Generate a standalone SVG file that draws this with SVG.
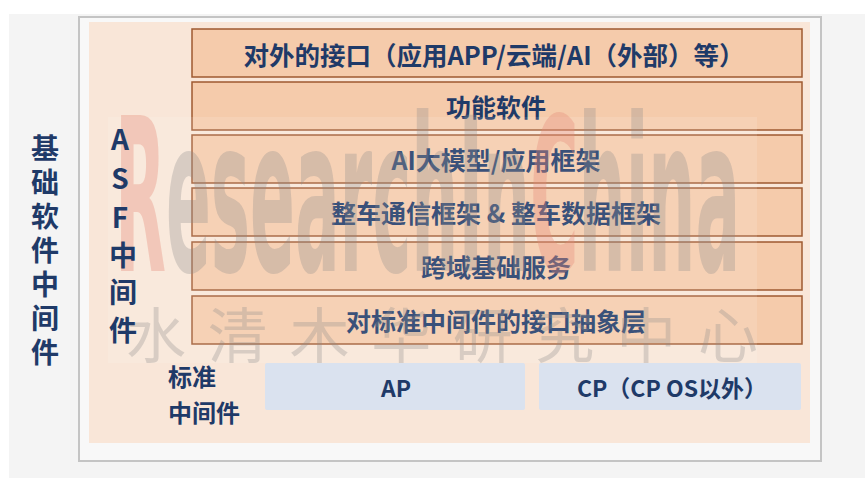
<svg xmlns="http://www.w3.org/2000/svg" width="865" height="480" viewBox="0 0 865 480">
<style>
.t{font-family:"Noto Sans CJK SC","Noto Sans",sans-serif;font-weight:bold;fill:#1f3a68;dominant-baseline:central}
.ob{fill:#f5cbab;stroke:#9e5a30;stroke-width:1.5}
.bb{fill:#dae2ef}
.wm{font-family:"Liberation Sans Narrow","DejaVu Sans Condensed","Liberation Sans",sans-serif;font-weight:bold}
</style>
<rect x="0" y="0" width="865" height="480" fill="#ffffff"/>
<rect x="9" y="14" width="856" height="464" fill="#f4f4f4"/>
<rect x="79" y="17" width="742" height="444" fill="#f8f8f8" stroke="#c4c4c4" stroke-width="2"/>
<rect x="89" y="22" width="721" height="421" fill="#f9e6d8"/>

<g id="layer-external"><rect class="ob" x="192" y="29" width="610" height="48"/><text class="t" x="494" y="53" font-size="25.5" text-anchor="middle">对外的接口（应用APP/云端/AI（外部）等）</text></g>
<g id="layer-function"><rect class="ob" x="192" y="82" width="610" height="48"/><text class="t" x="496" y="106" font-size="25" text-anchor="middle">功能软件</text></g>
<g id="layer-ai"><rect class="ob" x="192" y="135" width="610" height="48"/><text class="t" x="496" y="159" font-size="25" text-anchor="middle">AI大模型/应用框架</text></g>
<g id="layer-comm"><rect class="ob" x="192" y="188" width="610" height="48"/><text class="t" x="496" y="212" font-size="25" text-anchor="middle">整车通信框架 &amp; 整车数据框架</text></g>
<g id="layer-crossdomain"><rect class="ob" x="192" y="242" width="610" height="48"/><text class="t" x="496" y="266" font-size="25" text-anchor="middle">跨域基础服务</text></g>
<g id="layer-abstract"><rect class="ob" x="192" y="296" width="610" height="48"/><text class="t" x="496" y="320" font-size="25" text-anchor="middle">对标准中间件的接口抽象层</text></g>
<g id="node-ap"><rect class="bb" x="265" y="363" width="260" height="47" rx="2"/><text class="t" x="396" y="386.5" font-size="23" text-anchor="middle">AP</text></g>
<g id="node-cp"><rect class="bb" x="539" y="363" width="262" height="47" rx="2"/><text class="t" x="672" y="386.5" font-size="23" text-anchor="middle">CP（CP OS以外）</text></g>

<g id="watermark" pointer-events="none">
<rect x="108" y="117" width="649" height="246" fill="#ffffff" opacity="0.12"/>
<text class="wm" x="115" y="271" font-size="214" textLength="625" lengthAdjust="spacingAndGlyphs"><tspan fill="#e58a78" fill-opacity="0.35">R</tspan><tspan fill="#8a8a8a" fill-opacity="0.3">esearchIn</tspan><tspan fill="#e58a78" fill-opacity="0.35">C</tspan><tspan fill="#8a8a8a" fill-opacity="0.3">hina</tspan></text>
<text x="126" y="358" font-family="Noto Sans CJK SC,sans-serif" font-weight="400" font-size="60" fill="#8a8a8a" fill-opacity="0.3" textLength="632" lengthAdjust="spacing">水清木华研究中心</text>
</g>

<g id="label-basic">
<text class="t" x="45" y="147" font-size="28" text-anchor="middle">基</text>
<text class="t" x="45" y="181" font-size="28" text-anchor="middle">础</text>
<text class="t" x="45" y="215" font-size="28" text-anchor="middle">软</text>
<text class="t" x="45" y="249" font-size="28" text-anchor="middle">件</text>
<text class="t" x="45" y="283" font-size="28" text-anchor="middle">中</text>
<text class="t" x="45" y="317" font-size="28" text-anchor="middle">间</text>
<text class="t" x="45" y="351" font-size="28" text-anchor="middle">件</text>
</g>
<g id="label-asf">
<text class="t" x="120" y="138" font-size="28" text-anchor="middle">A</text>
<text class="t" x="120" y="177" font-size="28" text-anchor="middle">S</text>
<text class="t" x="120" y="216" font-size="28" text-anchor="middle">F</text>
<text class="t" x="123" y="254" font-size="28" text-anchor="middle">中</text>
<text class="t" x="123" y="291" font-size="28" text-anchor="middle">间</text>
<text class="t" x="123" y="329" font-size="28" text-anchor="middle">件</text>
</g>
<g id="label-standard">
<text class="t" x="168" y="375" font-size="24">标准</text>
<text class="t" x="168" y="411" font-size="24">中间件</text>
</g>
<g id="connectors"></g>
</svg>
